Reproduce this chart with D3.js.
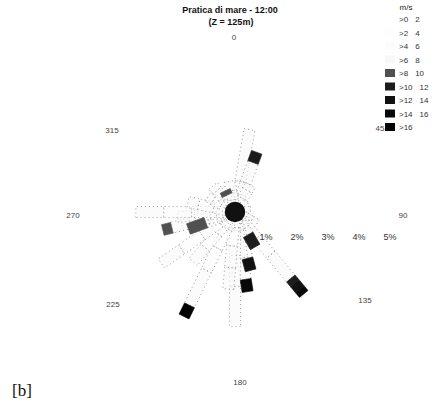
<!DOCTYPE html>
<html><head><meta charset="utf-8">
<script src="https://cdn.jsdelivr.net/npm/d3@7"></script>
<style>
html,body{margin:0;padding:0;background:#fff;}
svg{display:block;font-family:"Liberation Sans",Arial,sans-serif;}
</style></head>
<body>
<svg id="c" width="448" height="405"></svg>
<script>
// ---- data ----
const title = "Pratica di mare - 12:00";
const subtitle = "(Z = 125m)";
const speedLo = [">0", ">2", ">4", ">6", ">8", ">10", ">12", ">14", ">16"];
const speedHi = ["2", "4", "6", "8", "10", "12", "14", "16", ""];
const dirTicks = [0, 45, 90, 135, 180, 225, 270, 315];
const pctTicks = [1, 2, 3, 4, 5];
const calmPct = 0.33;
// bar directions (degrees) and frequency (%) per speed class
const directions = [10, 20, 30, 60, 90, 120, 140, 150, 165, 171, 180, 185, 206, 220, 235, 250, 256, 265, 270, 282, 300, 320, 335, 350];
const s0_2   = [0.3, 0.3, 0.2, 0.1, 0.1, 0.2, 0.5, 0.2, 0.3, 0.4, 0.6, 0.5, 0.6, 0.4, 0.6, 0.2, 0.4, 0.4, 0.6, 0.3, 0.2, 0.3, 0.15, 0.2];
const s2_4   = [0.3, 0.3, 0.3, 0.2, 0.2, 0.2, 0.6, 0.2, 0.3, 0.5, 0.8, 0.6, 0.7, 0.5, 0.7, 0.3, 0.5, 0.4, 0.8, 0.4, 0.3, 0.3, 0.15, 0.2];
const s4_6   = [0.4, 0.4, 0.3, 0.2, 0.2, 0.2, 0.7, 0.2, 0.4, 0.6, 1.0, 0.7, 0.8, 0.6, 0.8, 0.5, 0.6, 0.5, 0.9, 0.5, 0.3, 0.3, 0.2, 0.3];
const s6_8   = [1.7, 0.7, 0.2, 0.0, 0.0, 0.2, 1.0, 0.25, 0.55, 0.7, 1.3, 0.7, 1.25, 0.6, 0.8, 0.0, 0.6, 0.55, 0.9, 0.35, 0.2, 0.2, 0.1, 0.3];
const s8_10  = [0.0, 0.0, 0.0, 0.0, 0.0, 0.0, 0.0, 0.0, 0.0, 0.0, 0.0, 0.0, 0.0, 0.0, 0.0, 0.6, 0.3, 0.0, 0.0, 0.0, 0.0, 0.0, 0.15, 0.0];
const s10_12 = [0.0, 0.35, 0.0, 0.0, 0.0, 0.0, 0.2, 0.45, 0.0, 0.0, 0.0, 0.0, 0.0, 0.0, 0.0, 0.0, 0.0, 0.0, 0.0, 0.0, 0.0, 0.0, 0.0, 0.0];
const s12_14 = [0.0, 0.0, 0.0, 0.0, 0.0, 0.0, 0.25, 0.0, 0.4, 0.0, 0.0, 0.0, 0.0, 0.0, 0.0, 0.0, 0.0, 0.0, 0.0, 0.0, 0.0, 0.0, 0.0, 0.0];
const s14_16 = [0.0, 0.0, 0.0, 0.0, 0.0, 0.0, 0.2, 0.0, 0.0, 0.4, 0.0, 0.0, 0.0, 0.0, 0.0, 0.0, 0.0, 0.0, 0.0, 0.0, 0.0, 0.0, 0.0, 0.0];
const s16p   = [0.0, 0.0, 0.0, 0.0, 0.0, 0.0, 0.0, 0.0, 0.0, 0.0, 0.0, 0.0, 0.4, 0.0, 0.0, 0.0, 0.0, 0.0, 0.0, 0.0, 0.0, 0.0, 0.0, 0.0];
const series = [s0_2, s2_4, s4_6, s6_8, s8_10, s10_12, s12_14, s14_16, s16p];

// ---- styles / layout ----
const classColors = ["#ffffff", "#fefefe", "#fcfcfc", "#f8f8f8", "#505050", "#1c1c1c", "#111111", "#080808", "#000000"];
const cx = 235, cy = 212, barW = 11;
const svg = d3.select("#c");
const r = d3.scaleLinear().domain([0, 1]).range([0, 31]);
const dirLabelOffset = {0: [-1, -175], 45: [145, -84], 90: [168, 3], 135: [130, 88], 180: [5, 170], 225: [-122, 92], 270: [-162, 3], 315: [-123, -82]};

// title
svg.append("text").attr("x", 230).attr("y", 13).attr("text-anchor", "middle")
  .attr("font-size", 9).attr("font-weight", "bold").attr("fill", "#111").text(title);
svg.append("text").attr("x", 231).attr("y", 25).attr("text-anchor", "middle")
  .attr("font-size", 9).attr("font-weight", "bold").attr("fill", "#111").text(subtitle);

// direction labels
svg.append("g").selectAll("text").data(dirTicks).join("text")
  .attr("x", d => cx + dirLabelOffset[d][0])
  .attr("y", d => cy + dirLabelOffset[d][1])
  .attr("text-anchor", "middle").attr("dominant-baseline", "central")
  .attr("font-size", 8).attr("fill", "#444").text(d => d);

// bars: build stacked segments, draw light classes first, dark on top
const segs = [];
directions.forEach((dir, j) => {
  let acc = 0;
  series.forEach((s, i) => {
    const v = s[j];
    if (v > 0) segs.push({dir, i, inner: acc, outer: acc + v});
    acc += v;
  });
});
segs.sort((a, b) => (a.i >= 4) - (b.i >= 4));
const rose = svg.append("g").attr("transform", `translate(${cx},${cy})`);
rose.selectAll("rect").data(segs).join("rect")
  .attr("transform", d => `rotate(${d.dir})`)
  .attr("x", -barW / 2)
  .attr("y", d => -r(d.outer))
  .attr("width", barW)
  .attr("height", d => r(d.outer) - r(d.inner))
  .attr("fill", d => classColors[d.i])
  .attr("fill-opacity", d => d.i < 4 ? 0.6 : 1)
  .attr("stroke", d => d.i < 4 ? "#8a8a8a" : classColors[d.i])
  .attr("stroke-width", d => d.i < 4 ? 0.8 : 0.6)
  .attr("stroke-dasharray", d => d.i < 4 ? "1,3" : null);
rose.append("circle").attr("r", r(calmPct)).attr("fill", "#111");

// percent labels
svg.append("g").selectAll("text").data(pctTicks).join("text")
  .attr("x", d => cx + r(d)).attr("y", cy + 25)
  .attr("text-anchor", "middle").attr("dominant-baseline", "central")
  .attr("font-size", 9).attr("fill", "#333").text(d => d + "%");

// legend
const leg = svg.append("g");
leg.append("text").attr("x", 406).attr("y", 7).attr("text-anchor", "middle")
  .attr("dominant-baseline", "central").attr("font-size", 8).attr("fill", "#222").text("m/s");
const rows = leg.selectAll("g.row").data(speedLo).join("g").attr("class", "row")
  .attr("transform", (d, i) => `translate(385,${19 + i * 13.5})`);
rows.append("rect").attr("x", 0).attr("y", -4).attr("width", 10).attr("height", 8)
  .attr("fill", (d, i) => classColors[i]);
const lt = rows.append("text").attr("x", 14).attr("y", 0).attr("dominant-baseline", "central")
  .attr("font-size", 8).attr("fill", "#333");
lt.append("tspan").text(d => d);
lt.append("tspan").attr("dx", 7).text((d, i) => speedHi[i]);

// panel tag
svg.append("text").attr("x", 22).attr("y", 390).attr("text-anchor", "middle")
  .attr("dominant-baseline", "central").attr("font-family", "Liberation Serif, serif")
  .attr("font-size", 17).attr("fill", "#111").text("[b]");
</script>
</body></html>
